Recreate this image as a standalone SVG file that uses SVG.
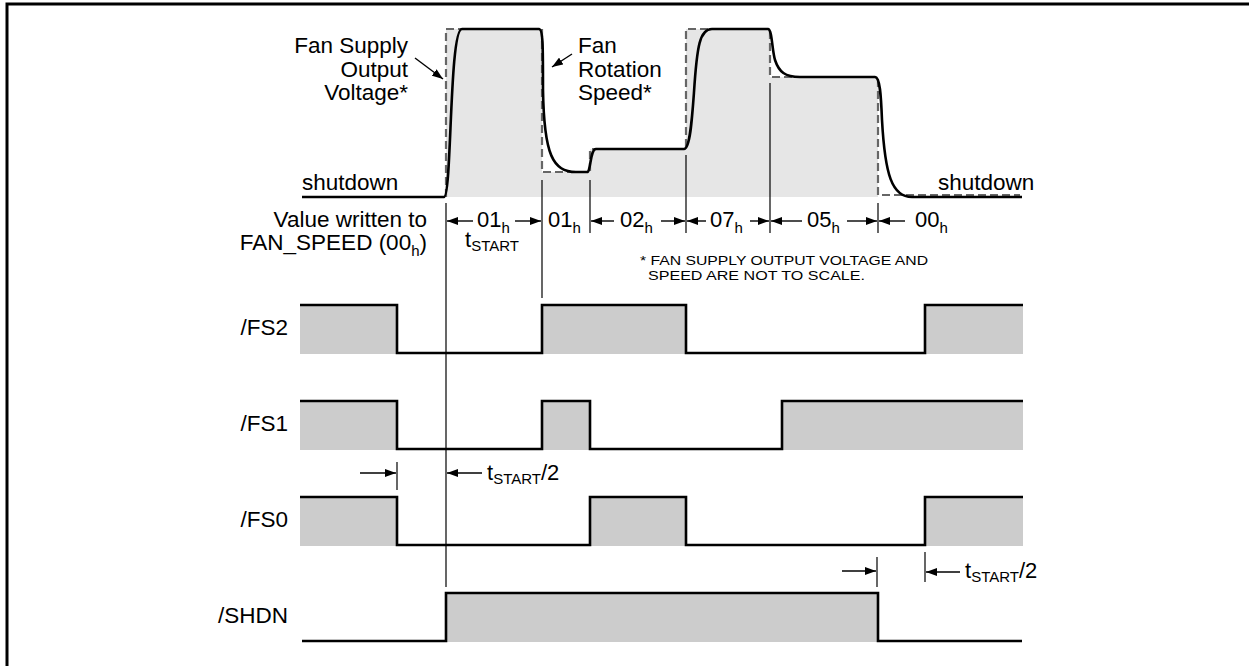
<svg xmlns="http://www.w3.org/2000/svg" width="1249" height="666" viewBox="0 0 1249 666">
<defs>
<style>
text{font-family:"Liberation Sans",Arial,sans-serif;fill:#000}
.lbl{font-size:22.5px}
.num{font-size:22px}
.sub{font-size:15px}
.note{font-size:13px}
.thin{stroke:#000;stroke-width:1.2;fill:none}
.arr{stroke:#000;stroke-width:1.4;fill:none;marker-end:url(#ah)}
.wave{stroke:#000;stroke-width:2.6;fill:none;stroke-linejoin:miter}
.hi{fill:#cccccc}
</style>
<marker id="ah" markerUnits="userSpaceOnUse" markerWidth="12" markerHeight="8" refX="11" refY="4" orient="auto">
<path d="M0,0 L11,4 L0,8 Z" fill="#000"/>
</marker>
</defs>
<rect width="1249" height="666" fill="#fff"/>
<g id="frame">
<path d="M7,666 V4 H1249" stroke="#000" stroke-width="3" fill="none"/>
</g>
<g id="speed-graph">
<polygon points="446,197 446,29 542,29 542,172 590,172 590,149 686,149 686,29 770,29 770,77 878,77 878,197" fill="#e6e6e6"/>
<path d="M446,197 L446,29 L542,29 L542,172 L590,172 L590,149 L686,149 L686,29 L770,29 L770,77 L878,77 L878,195 L1020,195" stroke="#666" stroke-width="2.2" stroke-dasharray="8,4" fill="none"/>
<path d="M302,197 L444,197 C452,197 449,29 462,29 L539,29 C543,29 543,45 543,90 C544,155 553,172 576,172 L587,172 C591,172 590,149 596,149 L684,149 C690,149 692,120 694,92 C697,45 700,29 712,29 L768,29 C772,29 772,50 775,60 C779,72 785,77 800,77 L875,77 C880,77 881,95 882,120 C885,175 892,197 912,197 L1022,197" stroke="#000" stroke-width="2.6" fill="none"/>
<text class="lbl" x="408" y="53" text-anchor="end">Fan Supply</text>
<text class="lbl" x="408" y="77" text-anchor="end">Output</text>
<text class="lbl" x="408" y="100" text-anchor="end">Voltage*</text>
<text class="lbl" x="578" y="53">Fan</text>
<text class="lbl" x="578" y="77">Rotation</text>
<text class="lbl" x="578" y="100">Speed*</text>
<text class="lbl" x="302" y="190">shutdown</text>
<text class="lbl" x="938" y="190">shutdown</text>
</g>
<g id="fan-speed-values">
<text class="lbl" x="427" y="227" text-anchor="end">Value written to</text>
<text class="lbl" x="427" y="250" text-anchor="end">FAN_SPEED (00<tspan class="sub" dy="6">h</tspan><tspan dy="-6">)</tspan></text>
<text class="num" x="477" y="227">01<tspan class="sub" dy="6">h</tspan></text>
<text class="num" x="465" y="247">t<tspan class="sub" dy="4">START</tspan></text>
<text class="num" x="548" y="227">01<tspan class="sub" dy="6">h</tspan></text>
<text class="num" x="620" y="227">02<tspan class="sub" dy="6">h</tspan></text>
<text class="num" x="710" y="227">07<tspan class="sub" dy="6">h</tspan></text>
<text class="num" x="807" y="227">05<tspan class="sub" dy="6">h</tspan></text>
<text class="num" x="915" y="227">00<tspan class="sub" dy="6">h</tspan></text>
<text class="note" x="640" y="265" textLength="288" lengthAdjust="spacingAndGlyphs">* FAN SUPPLY OUTPUT VOLTAGE AND</text>
<text class="note" x="648" y="280" textLength="217" lengthAdjust="spacingAndGlyphs">SPEED ARE NOT TO SCALE.</text>
</g>
<g id="FS2">
<rect class="hi" x="300" y="305" width="97" height="49"/>
<rect class="hi" x="542" y="305" width="144" height="49"/>
<rect class="hi" x="925" y="305" width="98" height="49"/>
<path class="wave" d="M300,305 H397 V353 H542 V305 H686 V353 H925 V305 H1023"/>
<text class="lbl" x="288" y="335" text-anchor="end">/FS2</text>
</g>
<g id="FS1">
<rect class="hi" x="300" y="401" width="97" height="49"/>
<rect class="hi" x="542" y="401" width="48" height="49"/>
<rect class="hi" x="782" y="401" width="241" height="49"/>
<path class="wave" d="M300,401 H397 V449 H542 V401 H590 V449 H782 V401 H1023"/>
<text class="lbl" x="288" y="431" text-anchor="end">/FS1</text>
</g>
<g id="FS0">
<rect class="hi" x="300" y="497" width="97" height="49"/>
<rect class="hi" x="590" y="497" width="96" height="49"/>
<rect class="hi" x="925" y="497" width="98" height="49"/>
<path class="wave" d="M300,497 H397 V545 H590 V497 H686 V545 H925 V497 H1023"/>
<text class="lbl" x="288" y="527" text-anchor="end">/FS0</text>
</g>
<g id="SHDN">
<rect class="hi" x="446" y="593" width="432" height="49"/>
<path class="wave" d="M302,641 H446 V593 H878 V641 H1022"/>
<text class="lbl" x="288" y="623" text-anchor="end">/SHDN</text>
</g>
<g id="timing-labels">
<text class="num" x="487" y="480">t<tspan class="sub" dy="4">START</tspan><tspan dy="-4">/2</tspan></text>
<text class="num" x="965" y="578">t<tspan class="sub" dy="4">START</tspan><tspan dy="-4">/2</tspan></text>
</g>
<g id="connectors">
<line class="thin" x1="446" y1="203" x2="446" y2="587"/>
<line class="thin" x1="542" y1="180" x2="542" y2="298"/>
<line class="thin" x1="590" y1="180" x2="590" y2="233"/>
<line class="thin" x1="686" y1="155" x2="686" y2="233"/>
<line class="thin" x1="770" y1="83" x2="770" y2="233"/>
<line class="thin" x1="878" y1="203" x2="878" y2="233"/>
<line class="thin" x1="397" y1="462" x2="397" y2="490"/>
<line class="thin" x1="877" y1="557" x2="877" y2="587"/>
<line class="thin" x1="925" y1="552" x2="925" y2="582"/>
<line class="arr" x1="473" y1="221" x2="447" y2="221"/>
<line class="arr" x1="515" y1="221" x2="541" y2="221"/>
<line class="arr" x1="614" y1="221" x2="591" y2="221"/>
<line class="arr" x1="661" y1="221" x2="685" y2="221"/>
<line class="arr" x1="706" y1="221" x2="687" y2="221"/>
<line class="arr" x1="750" y1="221" x2="769" y2="221"/>
<line class="arr" x1="802" y1="221" x2="771" y2="221"/>
<line class="arr" x1="847" y1="221" x2="877" y2="221"/>
<line class="arr" x1="905" y1="221" x2="879" y2="221"/>
<line class="arr" x1="360" y1="473" x2="396" y2="473"/>
<line class="arr" x1="482" y1="473" x2="447" y2="473"/>
<line class="arr" x1="842" y1="571" x2="876" y2="571"/>
<line class="arr" x1="960" y1="572" x2="926" y2="572"/>
<line class="arr" x1="415" y1="58" x2="443" y2="79"/>
<line class="arr" x1="572" y1="54" x2="552" y2="67"/>
</g>
</svg>
